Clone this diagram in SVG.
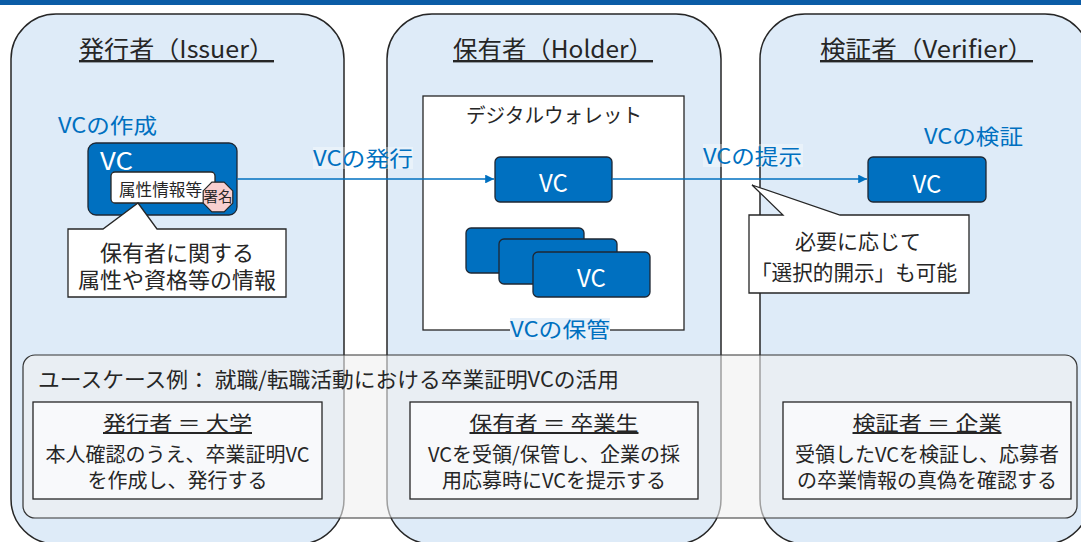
<svg xmlns="http://www.w3.org/2000/svg" width="1081" height="542" viewBox="0 0 1081 542">
<style>
text{font-family:"Noto Sans CJK JP","Noto Sans",sans-serif;fill:#262626}
.panel{fill:#DEEBF8;stroke:#262626;stroke-width:1.5}
.ttl{font-size:24px;text-decoration:underline;text-anchor:middle}
.blue{fill:#0070C0;font-size:21px}
.vc{fill:#0070C0;stroke:#1E2733;stroke-width:1.3}
.vct{fill:#fff;font-size:24px}
.lbg{fill:#fff;fill-opacity:0.35}
.conn{stroke:#0070C0;stroke-width:1.6;fill:none}
.box{fill:#fff;stroke:#262626;stroke-width:1.3}
.sub{fill:#F8F9FB;stroke:#262626;stroke-width:1.3}
.c{text-anchor:middle}
.st{font-size:20px;text-anchor:middle}
</style>
<defs>
<marker id="arr" viewBox="0 0 10 10" refX="10" refY="5" markerWidth="6" markerHeight="5.5" markerUnits="strokeWidth" orient="auto">
<path d="M0,0 L10,5 L0,10 Z" fill="#0070C0"/>
</marker>
</defs>
<rect x="0" y="0" width="1081" height="5" fill="#0B5CA6"/>

<g id="issuer">
<rect class="panel" x="11" y="14" width="333" height="530" rx="45"/>
<text class="ttl" x="176.5" y="58" textLength="195" lengthAdjust="spacingAndGlyphs">発行者（Issuer）</text>
<text class="blue" x="58" y="133" textLength="99" lengthAdjust="spacingAndGlyphs">VCの作成</text>
</g>

<g id="issuer-vc">
<rect class="vc" x="88" y="143" width="149" height="72" rx="8"/>
<text class="vct" x="100" y="170" textLength="33" lengthAdjust="spacingAndGlyphs">VC</text>
<rect class="box" x="111" y="172" width="104" height="31" rx="4"/>
<text x="119" y="196" font-size="16.5" textLength="83" lengthAdjust="spacingAndGlyphs">属性情報等</text>
<polygon points="232.8,203.1 224.1,211.8 211.9,211.8 203.2,203.1 203.2,190.9 211.9,182.2 224.1,182.2 232.8,190.9" fill="#F8CFCF" stroke="#262626" stroke-width="1.2"/>
<text class="c" x="218" y="202" font-size="14.5">署名</text>
</g>

<g id="issuer-callout">
<path class="box" d="M68,229 H103 L138,203 L157,229 H286 V297 H68 Z"/>
<text class="c" x="177" y="261" font-size="22">保有者に関する</text>
<text class="c" x="177" y="288" font-size="22">属性や資格等の情報</text>
</g>

<g id="holder">
<rect class="panel" x="387" y="14" width="334" height="530" rx="45"/>
<text class="ttl" x="553" y="58" textLength="200" lengthAdjust="spacingAndGlyphs">保有者（Holder）</text>
</g>

<g id="wallet">
<rect class="box" x="423" y="96" width="261" height="234"/>
<text class="c" x="554" y="123" font-size="20" textLength="176" lengthAdjust="spacingAndGlyphs">デジタルウォレット</text>
</g>

<g id="holder-vc">
<rect class="vc" x="495" y="157" width="117" height="45" rx="5"/>
<text class="vct c" x="553.5" y="192">VC</text>
</g>

<g id="holder-stack">
<rect class="vc" x="466" y="228" width="118" height="45" rx="5"/>
<rect class="vc" x="499" y="239" width="118" height="45" rx="5"/>
<rect class="vc" x="533" y="252" width="117" height="45" rx="5"/>
<text class="vct c" x="591.5" y="287">VC</text>
</g>

<g id="holder-store-label">
<rect x="510" y="318" width="100" height="22" fill="#E6F0FA"/>
<text class="blue" x="510" y="337" textLength="100" lengthAdjust="spacingAndGlyphs">VCの保管</text>
</g>

<g id="verifier">
<rect class="panel" x="760" y="14" width="330" height="530" rx="45"/>
<text class="ttl" x="926.5" y="58" textLength="213" lengthAdjust="spacingAndGlyphs">検証者（Verifier）</text>
<text class="blue" x="924" y="144" textLength="99" lengthAdjust="spacingAndGlyphs">VCの検証</text>
</g>

<g id="verifier-vc">
<rect class="vc" x="868" y="157" width="118" height="45" rx="5"/>
<text class="vct c" x="927" y="193">VC</text>
</g>

<g id="connectors">
<line class="conn" x1="237" y1="179" x2="494" y2="179" marker-end="url(#arr)"/>
<rect class="lbg" x="313" y="147" width="100" height="22"/>
<text class="blue" x="313" y="166" textLength="100" lengthAdjust="spacingAndGlyphs">VCの発行</text>
<line class="conn" x1="612" y1="179" x2="867" y2="179" marker-end="url(#arr)"/>
<rect class="lbg" x="703" y="144" width="100" height="23"/>
<text class="blue" x="703" y="164" textLength="99" lengthAdjust="spacingAndGlyphs">VCの提示</text>
</g>

<g id="verifier-callout">
<path class="box" d="M749,215 H783 L752,185 L840,215 H969 V293 H749 Z"/>
<text class="c" x="858" y="249" font-size="21">必要に応じて</text>
<text class="c" x="854" y="280" font-size="21" textLength="206" lengthAdjust="spacingAndGlyphs">「選択的開示」も可能</text>
</g>

<g id="usecase">
<rect x="23" y="355" width="1054" height="163" rx="12" fill="#F0F0F0" fill-opacity="0.6" stroke="#333" stroke-width="1.2"/>
<text x="38" y="387" font-size="21" textLength="581" lengthAdjust="spacingAndGlyphs">ユースケース例： 就職/転職活動における卒業証明VCの活用</text>
</g>

<g id="usecase-issuer">
<rect class="sub" x="33" y="402" width="289" height="97"/>
<text class="st" x="177.5" y="431" text-decoration="underline" textLength="149" lengthAdjust="spacingAndGlyphs">発行者 ＝ 大学</text>
<text class="st" x="177.5" y="462">本人確認のうえ、卒業証明VC</text>
<text class="st" x="177.5" y="488">を作成し、発行する</text>
</g>

<g id="usecase-holder">
<rect class="sub" x="410" y="402" width="288" height="97"/>
<text class="st" x="554" y="431" text-decoration="underline" textLength="169" lengthAdjust="spacingAndGlyphs">保有者 ＝ 卒業生</text>
<text class="st" x="554" y="462">VCを受領/保管し、企業の採</text>
<text class="st" x="554" y="488">用応募時にVCを提示する</text>
</g>

<g id="usecase-verifier">
<rect class="sub" x="783" y="402" width="288" height="97"/>
<text class="st" x="927" y="431" text-decoration="underline" textLength="149" lengthAdjust="spacingAndGlyphs">検証者 ＝ 企業</text>
<text class="st" x="927" y="462">受領したVCを検証し、応募者</text>
<text class="st" x="927" y="488">の卒業情報の真偽を確認する</text>
</g>
</svg>
